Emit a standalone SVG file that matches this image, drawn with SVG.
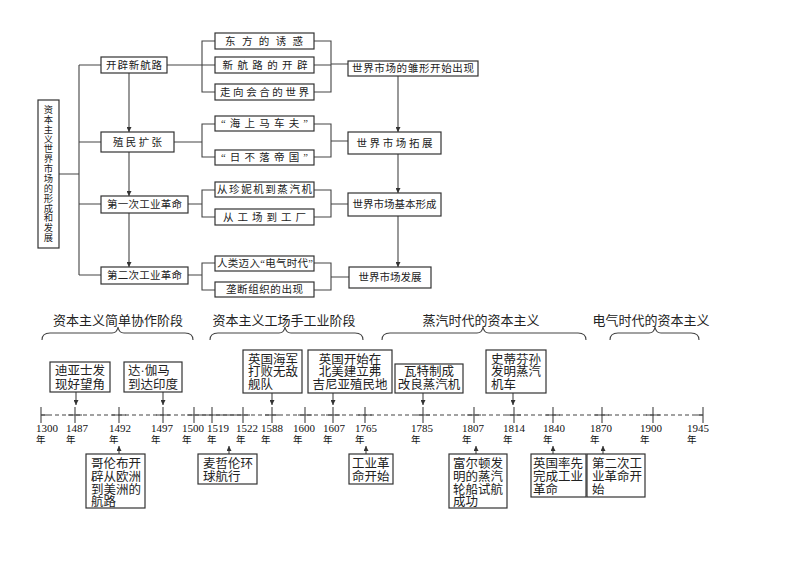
<svg xmlns="http://www.w3.org/2000/svg" width="800" height="566" viewBox="0 0 800 566">
<style>
.bx{fill:#fff;stroke:#333;stroke-width:1.2}
.ln{fill:none;stroke:#444;stroke-width:1.1}
.t{font-family:"Liberation Serif","Noto Sans CJK SC",serif;fill:#222}
.tr{font-size:10.5px;dominant-baseline:central;text-anchor:middle}
.ev{font-size:12.5px;dominant-baseline:central}
.hd{font-size:13px;dominant-baseline:central;text-anchor:middle}
.yr{font-size:11px;font-family:"Liberation Serif","Noto Sans CJK SC",serif;fill:#111;dominant-baseline:central}
.yn{font-size:9.5px;font-family:"Liberation Serif","Noto Sans CJK SC",serif;fill:#111;dominant-baseline:central}
</style>
<defs>
<marker id="ah" viewBox="0 0 6 6" refX="6" refY="3" markerWidth="5" markerHeight="5" orient="auto" markerUnits="userSpaceOnUse"><path d="M0,0 L6,3 L0,6 z" fill="#333"/></marker>
</defs>
<rect width="800" height="566" fill="#fff"/>

<g id="connectors" class="ln">
<path d="M59,174 H79 M79,65 V275 M79,65 H101 M79,142 H101 M79,204 H101 M79,275 H101"/>
<path d="M129,73 V132" marker-end="url(#ah)"/>
<path d="M129,152 V196" marker-end="url(#ah)"/>
<path d="M129,213 V267" marker-end="url(#ah)"/>
<path d="M167,65 H202 M174,142 H202 M188,204 H202 M188,275 H202"/>
<path d="M215,41 H202 V92 H215 M215,65 H202"/>
<path d="M215,124 H202 V157 H215"/>
<path d="M215,190 H202 V217 H215"/>
<path d="M215,263 H202 V290 H215"/>
<path d="M314,41 H331 V92 H314 M314,65 H331 M331,64 H348"/>
<path d="M314,124 H331 V157 H314 M331,141 H348"/>
<path d="M314,190 H331 V217 H314 M331,204 H348"/>
<path d="M314,263 H331 V290 H314 M331,277 H349"/>
<path d="M398,76 V132" marker-end="url(#ah)"/>
<path d="M398,154 V193" marker-end="url(#ah)"/>
<path d="M398,216 V267" marker-end="url(#ah)"/>

<path d="M42,340 Q42,333 50,333 L112,333 Q117,333 118,327 Q119,333 124,333 L185,333 Q193,333 193,340"/>
<path d="M210,340 Q210,333 218,333 L279,333 Q284,333 285,327 Q286,333 291,333 L355,333 Q363,333 363,340"/>
<path d="M382,340 Q382,333 390,333 L477,333 Q482,333 483,327 Q484,333 489,333 L578,333 Q586,333 586,340"/>
<path d="M610,340 Q610,333 618,333 L649,333 Q654,333 655,327 Q656,333 661,333 L691,333 Q699,333 699,340"/>

<path d="M41,415 H703" stroke-dasharray="4,3"/>
<path d="M41,415 H48 M68,415 H82 M112,415 H126 M156,415 H170 M187,415 H250 M265,415 H279 M298,415 H312 M326,415 H340 M358,415 H372 M416,415 H430 M467,415 H481 M507,415 H521 M546,415 H560 M595,415 H609 M646,415 H660 M696,415 H703"/>
<path d="M41,407 V423 M75,407 V423 M119,407 V423 M163,407 V423 M194,407 V423 M212,407 V423 M243,407 V423 M272,407 V423 M305,407 V423 M333,407 V423 M365,407 V423 M423,407 V423 M474,407 V423 M514,407 V423 M553,407 V423 M602,407 V423 M653,407 V423 M703,407 V423"/>

<path d="M76,392 V405" marker-end="url(#ah)"/>
<path d="M163,392 V405" marker-end="url(#ah)"/>
<path d="M272,393 V405" marker-end="url(#ah)"/>
<path d="M333,393 V405" marker-end="url(#ah)"/>
<path d="M423,393 V405" marker-end="url(#ah)"/>
<path d="M513,393 V405" marker-end="url(#ah)"/>

<path d="M119,454 V446" marker-end="url(#ah)"/>
<path d="M229,454 V446" marker-end="url(#ah)"/>
<path d="M366,454 V446" marker-end="url(#ah)"/>
<path d="M476,454 V446" marker-end="url(#ah)"/>
<path d="M553,454 V446" marker-end="url(#ah)"/>
<path d="M603,454 V446" marker-end="url(#ah)"/>
</g>

<g id="n-root">
<rect class="bx" x="38" y="100" width="21" height="148"/>
<text class="t" font-size="9.3" text-anchor="middle" dominant-baseline="central"><tspan x="48.5" y="110">资</tspan><tspan x="48.5" y="119.85">本</tspan><tspan x="48.5" y="129.7">主</tspan><tspan x="48.5" y="139.55">义</tspan><tspan x="48.5" y="149.4">世</tspan><tspan x="48.5" y="159.25">界</tspan><tspan x="48.5" y="169.1">市</tspan><tspan x="48.5" y="178.95">场</tspan><tspan x="48.5" y="188.8">的</tspan><tspan x="48.5" y="198.65">形</tspan><tspan x="48.5" y="208.5">成</tspan><tspan x="48.5" y="218.35">和</tspan><tspan x="48.5" y="228.2">发</tspan><tspan x="48.5" y="238">展</tspan></text>
</g>

<g id="n-xhl"><rect class="bx" x="101" y="57" width="66" height="16"/><text class="t tr" x="134" y="65" textLength="56" lengthAdjust="spacing">开辟新航路</text></g>
<g id="n-zmkz"><rect class="bx" x="101" y="132" width="73" height="20"/><text class="t tr" x="137.5" y="142" textLength="49" lengthAdjust="spacing">殖民扩张</text></g>
<g id="n-gy1"><rect class="bx" x="101" y="196" width="87" height="17"/><text class="t tr" x="144.5" y="204.5" textLength="75" lengthAdjust="spacing">第一次工业革命</text></g>
<g id="n-gy2"><rect class="bx" x="101" y="267" width="87" height="17"/><text class="t tr" x="144.5" y="275.5" textLength="75" lengthAdjust="spacing">第二次工业革命</text></g>

<g id="n-dfyh"><rect class="bx" x="215" y="33" width="99" height="16"/><text class="t tr" x="264" y="41" textLength="78" lengthAdjust="spacing">东方的诱惑</text></g>
<g id="n-xhlkp"><rect class="bx" x="215" y="57" width="99" height="16"/><text class="t tr" x="265" y="65" textLength="85" lengthAdjust="spacing">新航路的开辟</text></g>
<g id="n-zxhh"><rect class="bx" x="215" y="84" width="99" height="16"/><text class="t tr" x="264.5" y="92" textLength="89" lengthAdjust="spacing">走向会合的世界</text></g>
<g id="n-hsmcf"><rect class="bx" x="215" y="116" width="99" height="15"/><text class="t tr" x="264.5" y="123.5" textLength="87" lengthAdjust="spacing">“海上马车夫”</text></g>
<g id="n-rblg"><rect class="bx" x="215" y="150" width="99" height="15"/><text class="t tr" x="264.5" y="157.5" textLength="87" lengthAdjust="spacing">“日不落帝国”</text></g>
<g id="n-znj"><rect class="bx" x="215" y="182" width="99" height="15"/><text class="t tr" x="264.5" y="189.5" textLength="95" lengthAdjust="spacing">从珍妮机到蒸汽机</text></g>
<g id="n-gcgc"><rect class="bx" x="215" y="209" width="99" height="16"/><text class="t tr" x="264.5" y="217" textLength="83" lengthAdjust="spacing">从工场到工厂</text></g>
<g id="n-dqsd"><rect class="bx" x="215" y="256" width="99" height="15"/><text class="t tr" x="265" y="263.5" textLength="96" lengthAdjust="spacing">人类迈入“电气时代”</text></g>
<g id="n-ldzz"><rect class="bx" x="215" y="282" width="99" height="15"/><text class="t tr" x="264.5" y="289.5" textLength="77" lengthAdjust="spacing">垄断组织的出现</text></g>

<g id="n-sc1"><rect class="bx" x="348" y="61" width="130" height="15"/><text class="t tr" x="413" y="68.5" textLength="122" lengthAdjust="spacing">世界市场的雏形开始出现</text></g>
<g id="n-sc2"><rect class="bx" x="348" y="132" width="93" height="22"/><text class="t tr" x="394.5" y="143" textLength="76" lengthAdjust="spacing">世界市场拓展</text></g>
<g id="n-sc3"><rect class="bx" x="348" y="193" width="93" height="23"/><text class="t tr" x="394.5" y="204.5" textLength="84" lengthAdjust="spacing">世界市场基本形成</text></g>
<g id="n-sc4"><rect class="bx" x="349" y="267" width="82" height="21"/><text class="t tr" x="390" y="277.5" textLength="63" lengthAdjust="spacing">世界市场发展</text></g>

<g id="n-h1"><text class="t hd" x="118" y="320">资本主义简单协作阶段</text></g>
<g id="n-h2"><text class="t hd" x="284" y="320">资本主义工场手工业阶段</text></g>
<g id="n-h3"><text class="t hd" x="481" y="320">蒸汽时代的资本主义</text></g>
<g id="n-h4"><text class="t hd" x="651" y="320">电气时代的资本主义</text></g>

<g id="years">
<text class="yr" x="36" y="428">1300</text><text class="yn" x="36" y="440">年</text>
<text class="yr" x="66" y="428">1487</text><text class="yn" x="66" y="440">年</text>
<text class="yr" x="109" y="428">1492</text><text class="yn" x="109" y="440">年</text>
<text class="yr" x="151" y="428">1497</text><text class="yn" x="151" y="440">年</text>
<text class="yr" x="182" y="428">1500</text><text class="yn" x="182" y="440">年</text>
<text class="yr" x="207" y="428">1519</text><text class="yn" x="207" y="440">年</text>
<text class="yr" x="236" y="428">1522</text><text class="yn" x="236" y="440">年</text>
<text class="yr" x="261" y="428">1588</text><text class="yn" x="261" y="440">年</text>
<text class="yr" x="293" y="428">1600</text><text class="yn" x="293" y="440">年</text>
<text class="yr" x="323" y="428">1607</text><text class="yn" x="323" y="440">年</text>
<text class="yr" x="355" y="428">1765</text><text class="yn" x="355" y="440">年</text>
<text class="yr" x="411" y="428">1785</text><text class="yn" x="411" y="440">年</text>
<text class="yr" x="462" y="428">1807</text><text class="yn" x="462" y="440">年</text>
<text class="yr" x="503" y="428">1814</text><text class="yn" x="503" y="440">年</text>
<text class="yr" x="543" y="428">1840</text><text class="yn" x="543" y="440">年</text>
<text class="yr" x="590" y="428">1870</text><text class="yn" x="590" y="440">年</text>
<text class="yr" x="640" y="428">1900</text><text class="yn" x="640" y="440">年</text>
<text class="yr" x="687" y="428">1945</text><text class="yn" x="687" y="440">年</text>
</g>

<g id="n-e1"><rect class="bx" x="50" y="362" width="60" height="30"/><text class="t ev"><tspan x="55" y="371">迪亚士发</tspan><tspan x="55" y="385">现好望角</tspan></text></g>
<g id="n-e2"><rect class="bx" x="124" y="362" width="58" height="30"/><text class="t ev"><tspan x="128" y="371">达·伽马</tspan><tspan x="128" y="385">到达印度</tspan></text></g>
<g id="n-e3"><rect class="bx" x="243" y="350" width="59" height="43"/><text class="t ev"><tspan x="248" y="359.5">英国海军</tspan><tspan x="248" y="372">打败无敌</tspan><tspan x="248" y="384.5">舰队</tspan></text></g>
<g id="n-e4"><rect class="bx" x="308" y="350" width="84" height="43"/><text class="t ev" text-anchor="middle"><tspan x="350" y="359.5">英国开始在</tspan><tspan x="350" y="372">北美建立弗</tspan><tspan x="350" y="384.5">吉尼亚殖民地</tspan></text></g>
<g id="n-e5"><rect class="bx" x="395" y="364" width="68" height="29"/><text class="t ev" text-anchor="middle"><tspan x="429" y="372">瓦特制成</tspan><tspan x="429" y="384.5">改良蒸汽机</tspan></text></g>
<g id="n-e6"><rect class="bx" x="486" y="350" width="60" height="43"/><text class="t ev"><tspan x="491" y="359.5">史蒂芬孙</tspan><tspan x="491" y="372">发明蒸汽</tspan><tspan x="491" y="384.5">机车</tspan></text></g>

<g id="n-e7"><rect class="bx" x="86" y="454" width="59" height="54"/><text class="t ev"><tspan x="91" y="463.5">哥伦布开</tspan><tspan x="91" y="476.5">辟从欧洲</tspan><tspan x="91" y="489.5">到美洲的</tspan><tspan x="91" y="502">航路</tspan></text></g>
<g id="n-e8"><rect class="bx" x="198" y="454" width="59" height="30"/><text class="t ev"><tspan x="203" y="463.5">麦哲伦环</tspan><tspan x="203" y="476.5">球航行</tspan></text></g>
<g id="n-e9"><rect class="bx" x="349" y="454" width="44" height="30"/><text class="t ev"><tspan x="352" y="463.5">工业革</tspan><tspan x="352" y="476.5">命开始</tspan></text></g>
<g id="n-e10"><rect class="bx" x="449" y="454" width="58" height="54"/><text class="t ev"><tspan x="453" y="463.5">富尔顿发</tspan><tspan x="453" y="476.5">明的蒸汽</tspan><tspan x="453" y="489.5">轮船试航</tspan><tspan x="453" y="502">成功</tspan></text></g>
<g id="n-e11"><rect class="bx" x="531" y="454" width="55" height="43"/><text class="t ev"><tspan x="533" y="463.5">英国率先</tspan><tspan x="533" y="476.5">完成工业</tspan><tspan x="533" y="489.5">革命</tspan></text></g>
<g id="n-e12"><rect class="bx" x="587" y="454" width="58" height="43"/><text class="t ev"><tspan x="592" y="463.5">第二次工</tspan><tspan x="592" y="476.5">业革命开</tspan><tspan x="592" y="489.5">始</tspan></text></g>
</svg>
